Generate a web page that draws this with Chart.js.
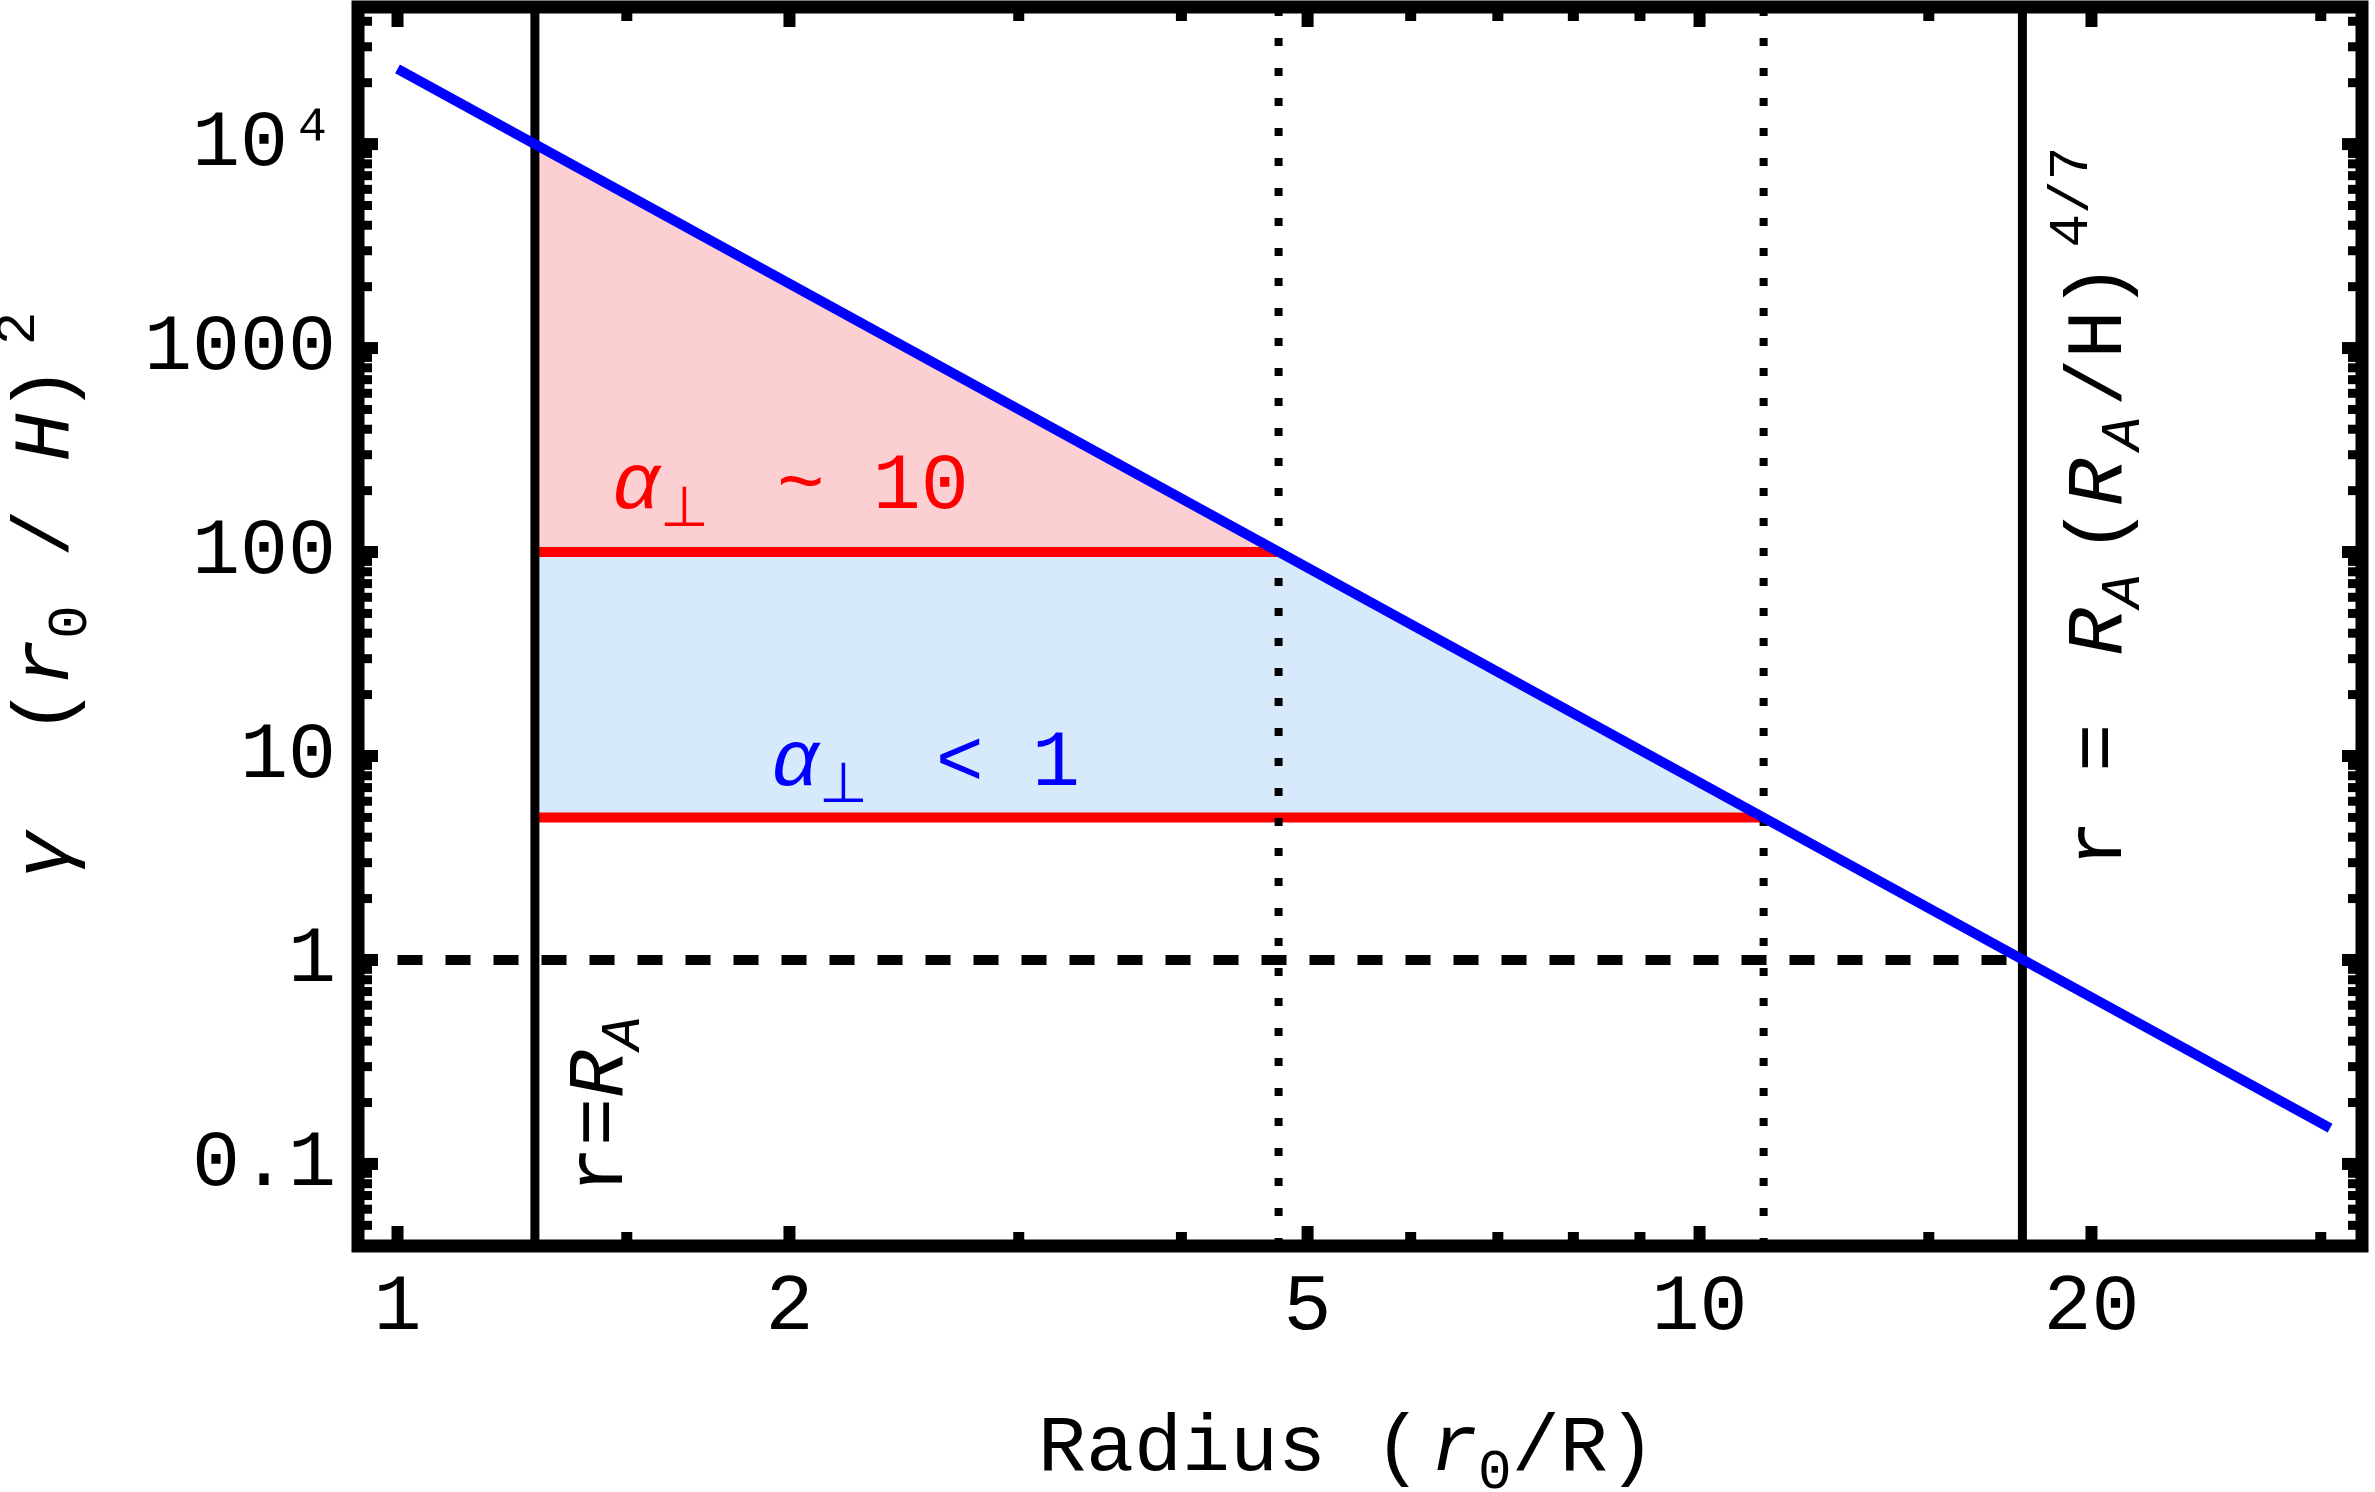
<!DOCTYPE html>
<html>
<head>
<meta charset="utf-8">
<script src="https://cdn.jsdelivr.net/npm/chart.js@4.4.1/dist/chart.umd.min.js"></script>
<style>
  html, body { margin: 0; padding: 0; background: #ffffff; }
</style>
</head>
<body>
<canvas id="chart" width="2375" height="1492"></canvas>
<script>
// Eixos (log-log)
const xRange = [0.9325, 32.27];
const yRange = [0.0396, 47000];

// Marcas dos eixos
const xMajorTicks = [1, 2, 5, 10, 20];
const xMinorTicks = [1.5, 3, 4, 6, 7, 8, 9, 15, 30];
const yMajorTicks = [0.1, 1, 10, 100, 1000, 10000];
const yMinorTicks = [0.05, 0.06, 0.07, 0.08, 0.09, 0.2, 0.3, 0.4, 0.5, 0.6, 0.7, 0.8, 0.9,
  2, 3, 4, 5, 6, 7, 8, 9, 20, 30, 40, 50, 60, 70, 80, 90, 200, 300, 400, 500, 600, 700, 800, 900,
  2000, 3000, 4000, 5000, 6000, 7000, 8000, 9000, 20000, 30000, 40000];

// Linhas verticais
const rAlfven = 1.275;     // r = R_A
const rOuter = 17.7;       // r = R_A (R_A/H)^(4/7)
const rCross100 = 4.75;    // curva cruza y = 100
const rCross5 = 11.2;      // curva cruza y = 5

// Curva azul (reta no log-log)
const curveX = [1, 30.5];
const curveY = [23400, 0.15];

// Limiares vermelhos
const thresholdY = [100, 5];
const thresholdEndX = [rCross100, rCross5];

// Regioes sombreadas
const pinkX = [rAlfven, rCross100, rAlfven];
const pinkY = [10000, 100, 100];
const blueX = [rAlfven, rCross100, rCross5, rAlfven];
const blueY = [100, 100, 5, 5];

// Linha tracejada y = 1
const unityX = [1, rOuter];
const unityY = [1, 1];

const S = 80;
const FAM = '"Liberation Mono", "DejaVu Sans Mono", monospace';

// Textos (partes com estilo)
const labelHigh = [{t: 'α', it: true}, {t: '⊥', pos: 'sub', fam: '"DejaVu Sans"'}, {t: ' ~ 10', dx: 20}];
const labelLow = [{t: 'α', it: true}, {t: '⊥', pos: 'sub', fam: '"DejaVu Sans"'}, {t: ' < 1', dx: 20}];
const labelRA = [{t: 'r='}, {t: 'R', it: true}, {t: 'A', it: true, pos: 'sub'}];
const labelOuter = [{t: 'r = '}, {t: 'R', it: true, dx: 20}, {t: 'A', it: true, pos: 'sub'}, {t: '(', dx: 20},
  {t: 'R', it: true}, {t: 'A', it: true, pos: 'sub', dx: 8}, {t: '/H)', dx: 10}, {t: '4/7', pos: 'sup', dx: 15}];
const titleX = [{t: 'Radius ('}, {t: 'r', it: true, dx: 8}, {t: '0', pos: 'sub'}, {t: '/R)'}];
const titleY = [{t: 'γ', it: true}, {t: '  ('}, {t: 'r', it: true}, {t: '0', pos: 'sub'}, {t: ' / '},
  {t: 'H', it: true}, {t: ')'}, {t: '2', pos: 'sup', dx: 20}];

function pts(xs, ys) {
  return xs.map((x, i) => ({x: x, y: ys[i]}));
}

function fontFor(run) {
  const size = run.pos ? S * 0.7 : S;
  return (run.it ? 'italic ' : '') + size + 'px ' + (run.fam ? run.fam + ', ' : '') + FAM;
}

// Desenha texto com subscritos/sobrescritos
function drawRich(ctx, runs, x, y, color, rotate) {
  ctx.save();
  ctx.translate(x, y);
  if (rotate) ctx.rotate(-Math.PI / 2);
  ctx.fillStyle = color;
  ctx.textBaseline = 'alphabetic';
  ctx.textAlign = 'left';
  let cx = 0;
  runs.forEach(r => {
    ctx.font = fontFor(r);
    cx += (r.dx || 0);
    const dy = r.pos === 'sub' ? S * 0.22 : (r.pos === 'sup' ? -S * 0.42 : 0);
    ctx.fillText(r.t, cx, dy);
    cx += ctx.measureText(r.t).width;
  });
  ctx.restore();
}

// Moldura e marcas internas
const framePlugin = {
  id: 'frame',
  afterDatasetsDraw(chart) {
    const {ctx, chartArea: a, scales} = chart;
    const xs = scales.x, ys = scales.y;
    ctx.save();
    ctx.fillStyle = '#000';
    const tickX = (v, len, w) => {
      const px = xs.getPixelForValue(v);
      ctx.fillRect(px - w / 2, a.bottom - len, w, len);
      ctx.fillRect(px - w / 2, a.top, w, len);
    };
    const tickY = (v, len, w) => {
      const py = ys.getPixelForValue(v);
      ctx.fillRect(a.left, py - w / 2, len, w);
      ctx.fillRect(a.right - len, py - w / 2, len, w);
    };
    xMinorTicks.forEach(v => tickX(v, 14, 11));
    xMajorTicks.forEach(v => tickX(v, 20, 12));
    yMinorTicks.forEach(v => tickY(v, 14, 9));
    yMajorTicks.forEach(v => tickY(v, 20, 12));
    ctx.strokeStyle = '#000';
    ctx.lineWidth = 13;
    ctx.strokeRect(a.left, a.top, a.right - a.left, a.bottom - a.top);
    ctx.restore();
  }
};

// Anotacoes e titulos dos eixos
const textPlugin = {
  id: 'texts',
  afterDraw(chart) {
    const {ctx, scales} = chart;
    const xs = scales.x, ys = scales.y;
    drawRich(ctx, labelHigh, xs.getPixelForValue(1.461), ys.getPixelForValue(164), '#ff0000', false);
    drawRich(ctx, labelLow, xs.getPixelForValue(1.936), ys.getPixelForValue(7.24), '#0000ff', false);
    drawRich(ctx, labelRA, xs.getPixelForValue(1.487), ys.getPixelForValue(0.0713), '#000', true);
    drawRich(ctx, labelOuter, xs.getPixelForValue(21.07), ys.getPixelForValue(2.83), '#000', true);
    drawRich(ctx, titleX, 1038, 1470, '#000', false);
    drawRich(ctx, titleY, 68, 879, '#000', true);
  }
};

const ctx = document.getElementById('chart').getContext('2d');

new Chart(ctx, {
  type: 'scatter',
  data: {
    datasets: [
      {
        data: pts(curveX, curveY),
        showLine: true, borderColor: '#0000ff', borderWidth: 10,
        borderCapStyle: 'butt', pointRadius: 0, order: 0
      },
      {
        data: pts([rAlfven, rAlfven], yRange),
        showLine: true, borderColor: '#000', borderWidth: 9, pointRadius: 0, order: 1
      },
      {
        data: pts([rOuter, rOuter], yRange),
        showLine: true, borderColor: '#000', borderWidth: 9, pointRadius: 0, order: 1
      },
      {
        data: pts(unityX, unityY),
        showLine: true, borderColor: '#000', borderWidth: 10, borderDash: [25, 23],
        borderCapStyle: 'butt', pointRadius: 0, order: 2
      },
      {
        data: pts([rCross100, rCross100], yRange),
        showLine: true, borderColor: '#000', borderWidth: 8, borderDash: [8, 22],
        borderCapStyle: 'butt', pointRadius: 0, order: 2
      },
      {
        data: pts([rCross5, rCross5], yRange),
        showLine: true, borderColor: '#000', borderWidth: 8, borderDash: [8, 22],
        borderCapStyle: 'butt', pointRadius: 0, order: 2
      },
      {
        data: pts([rAlfven, thresholdEndX[0]], [thresholdY[0], thresholdY[0]]),
        showLine: true, borderColor: '#ff0000', borderWidth: 10,
        borderCapStyle: 'butt', pointRadius: 0, order: 3
      },
      {
        data: pts([rAlfven, thresholdEndX[1]], [thresholdY[1], thresholdY[1]]),
        showLine: true, borderColor: '#ff0000', borderWidth: 10,
        borderCapStyle: 'butt', pointRadius: 0, order: 3
      },
      {
        data: pts(pinkX, pinkY),
        showLine: true, fill: 'shape', backgroundColor: '#fccfd2',
        borderColor: 'rgba(0,0,0,0)', borderWidth: 0, pointRadius: 0, order: 4
      },
      {
        data: pts(blueX, blueY),
        showLine: true, fill: 'shape', backgroundColor: '#d7eafc',
        borderColor: 'rgba(0,0,0,0)', borderWidth: 0, pointRadius: 0, order: 4
      }
    ]
  },
  options: {
    responsive: false,
    animation: false,
    layout: { padding: { top: 7, right: 13, bottom: 0, left: 0 } },
    plugins: {
      legend: { display: false },
      tooltip: { enabled: false }
    },
    scales: {
      x: {
        type: 'logarithmic',
        min: xRange[0],
        max: xRange[1],
        grid: { display: false, drawTicks: false },
        border: { display: false },
        afterBuildTicks: s => { s.ticks = xMajorTicks.map(v => ({value: v})); },
        afterFit: s => { s.height = 246; s.paddingLeft = 0; s.paddingRight = 0; },
        ticks: {
          autoSkip: false, maxRotation: 0, padding: 14, color: '#000',
          font: { family: 'Liberation Mono', size: S },
          callback: v => String(v)
        }
      },
      y: {
        type: 'logarithmic',
        min: yRange[0],
        max: yRange[1],
        grid: { display: false, drawTicks: false },
        border: { display: false },
        afterBuildTicks: s => { s.ticks = yMajorTicks.map(v => ({value: v})); },
        afterFit: s => { s.width = 358; s.paddingTop = 0; s.paddingBottom = 0; },
        ticks: {
          autoSkip: false, padding: 22, color: '#000',
          font: { family: 'Liberation Mono', size: S },
          callback: v => (v === 10000 ? '10⁴' : String(v))
        }
      }
    }
  },
  plugins: [framePlugin, textPlugin]
});
</script>
</body>
</html>
